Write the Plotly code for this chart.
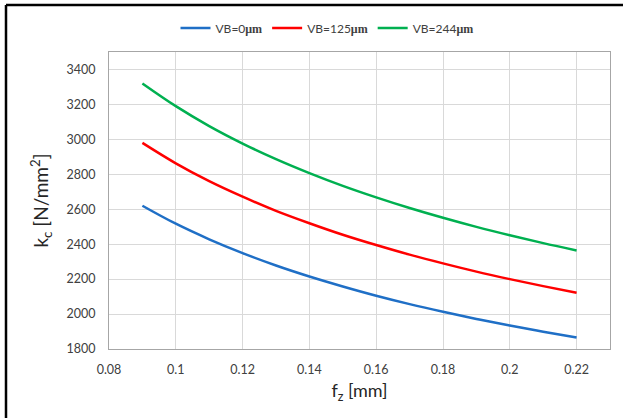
import plotly.graph_objects as go

fz = [0.09, 0.10, 0.11, 0.12, 0.13, 0.14, 0.15, 0.16, 0.17, 0.18, 0.19, 0.20, 0.21, 0.22]
kc_vb0 = [2620, 2517, 2428, 2349, 2278, 2215, 2158, 2105, 2057, 2013, 1972, 1934, 1899, 1866]
kc_vb125 = [2980, 2863, 2761, 2672, 2591, 2520, 2454, 2395, 2340, 2290, 2243, 2200, 2160, 2122]
kc_vb244 = [3320, 3190, 3076, 2976, 2887, 2807, 2734, 2668, 2607, 2551, 2499, 2451, 2406, 2364]
series_names = ["VB=0", "VB=125", "VB=244"]
colors = ["#1f6fc6", "#ff0000", "#00b050"]
x_ticks = [0.08, 0.10, 0.12, 0.14, 0.16, 0.18, 0.20, 0.22]
x_labels = ["0.08", "0.1", "0.12", "0.14", "0.16", "0.18", "0.2", "0.22"]
y_ticks = [1800, 2000, 2200, 2400, 2600, 2800, 3000, 3200, 3400]

FONT = "Lato"
mu = "<span style='font-family:Liberation Serif'><b>μm</b></span>"

fig = go.Figure()
for name, vals, c in zip(series_names, [kc_vb0, kc_vb125, kc_vb244], colors):
    fig.add_trace(go.Scatter(x=fz, y=vals, mode="lines", name=name + mu,
                             line=dict(color=c, width=2.5, shape="spline")))

L, R, T, B = 109, 13, 52, 69
W, H = 623, 418
pw, ph = W - L - R, H - T - B
def px(x): return (x - L) / pw
def py(y): return (H - B - y) / ph

fig.update_layout(
    width=W, height=H,
    margin=dict(l=L, r=R, t=T, b=B),
    paper_bgcolor="white", plot_bgcolor="white",
    font=dict(family=FONT, size=12.5, color="#404040"),
    legend=dict(orientation="h", x=px(327), y=py(28), xanchor="center", yanchor="middle",
                font=dict(size=12, color="#404040"), itemwidth=30, tracegroupgap=0,
                bgcolor="rgba(0,0,0,0)"),
    xaxis=dict(range=[0.08, 0.23], tickvals=x_ticks, ticktext=x_labels,
               showgrid=True, gridcolor="#d9d9d9", gridwidth=1,
               showline=True, linecolor="#a6a6a6", linewidth=1, mirror=True,
               ticks="", zeroline=False, ticklabelstandoff=9,
               title=dict(text="f<sub>z</sub> [mm]", font=dict(size=18, color="#262626"), standoff=8)),
    yaxis=dict(range=[1800, 3500], tickvals=y_ticks,
               showgrid=True, gridcolor="#d9d9d9", gridwidth=1,
               showline=True, linecolor="#a6a6a6", linewidth=1, mirror=True,
               ticks="", zeroline=False, ticklabelstandoff=10,
               title=dict(text="k<sub>c</sub> [N/mm<sup>2</sup>]", font=dict(size=19, color="#262626"), standoff=12)),
    shapes=[
        dict(type="line", xref="paper", yref="paper", x0=px(6), x1=px(623), y0=py(5), y1=py(5),
             line=dict(color="black", width=2.5)),
        dict(type="line", xref="paper", yref="paper", x0=px(6), x1=px(6), y0=py(5), y1=py(418),
             line=dict(color="black", width=2.5)),
    ],
)

fig.write_html("out.html")
